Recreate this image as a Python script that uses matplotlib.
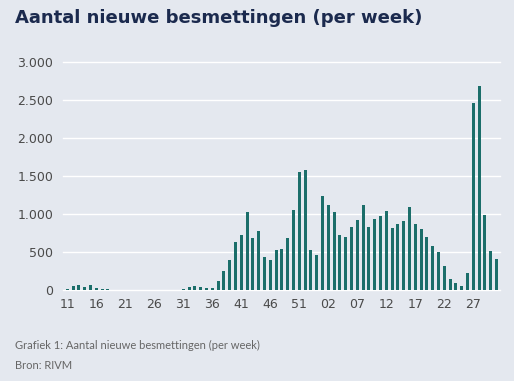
import matplotlib
matplotlib.use("Agg")
import matplotlib.pyplot as plt
import numpy as np

# weekly counts, week 11 (2020) up to week 31 (2021)
values = [15, 50, 65, 45, 60, 25, 15, 8, 5, 3,
          2, 2, 2, 2, 2, 3, 3, 3, 4, 5,
          15, 35, 50, 40, 25, 20, 115, 250, 395, 630,
          725, 1020, 685, 770, 440, 395, 520, 535, 690, 1055,
          1555, 1580, 525, 460, 1235, 1125, 1030, 725, 700, 835,
          920, 1115, 835, 935, 975, 1040, 815, 865, 910, 1095,
          870, 805, 700, 580, 505, 320, 145, 88, 53, 228,
          2465, 2685, 987, 513, 408]
tick_labels = ["11", "16", "21", "26", "31", "36", "41", "46", "51",
               "02", "07", "12", "17", "22", "27"]
y_ticks = [0, 500, 1000, 1500, 2000, 2500, 3000]

bg = "#e4e8ef"
bar_color = "#1b6e6a"

fig = plt.figure(figsize=(5.14, 3.81), dpi=100, facecolor=bg)
ax = fig.add_axes([0.1226, 0.2388, 0.8502, 0.5985], facecolor=bg)

x = np.arange(len(values))
ax.bar(x, values, width=0.52, color=bar_color, zorder=3)

ax.set_xlim(-0.74, 74.6)
ax.set_ylim(0, 3000)
ax.set_yticks(y_ticks)
ax.set_yticklabels([f"{v:,}".replace(",", ".") for v in y_ticks])
ax.set_xticks(x[::5])
ax.set_xticklabels(tick_labels)
ax.grid(axis="y", color="white", linewidth=1.0, zorder=0)
for line in ax.get_ygridlines():
    line.set_clip_on(False)
ax.tick_params(length=0, labelsize=9, colors="#4a4a4a", pad=6)
ax.tick_params(axis="y", pad=7)
for s in ax.spines.values():
    s.set_visible(False)

fig.text(0.029, 0.952, "Aantal nieuwe besmettingen (per week)", fontsize=13,
         fontweight="bold", color="#1b2a4e", va="center", family="DejaVu Sans")
fig.text(0.029, 0.092, "Grafiek 1: Aantal nieuwe besmettingen (per week)",
         fontsize=8, color="#666666", va="center", family="Lato")
fig.text(0.029, 0.040, "Bron: RIVM", fontsize=8, color="#666666",
         va="center", family="Lato")

fig.savefig("out.png", dpi=100, facecolor=bg)
